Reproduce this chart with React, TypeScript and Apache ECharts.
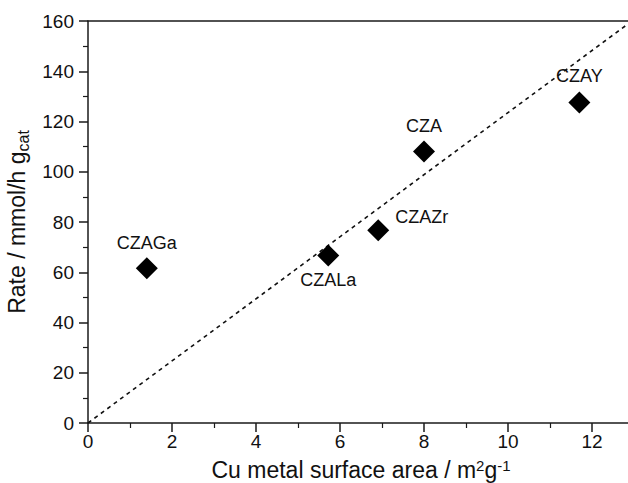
import React, { useEffect, useRef } from "react";
import * as echarts from "echarts";

const sampleNames = ["CZAGa", "CZALa", "CZAZr", "CZA", "CZAY"];
const surfaceArea = [1.4, 5.72, 6.91, 8.0, 11.7];
const rate = [61.6, 66.7, 76.7, 108.1, 127.6];
const fitLineX = [0, 13];
const fitLineY = [0, 160.6];
const xTicks = [0, 2, 4, 6, 8, 10, 12];
const yTicks = [0, 20, 40, 60, 80, 100, 120, 140, 160];

const labelPlacement: Record<string, any> = {
  CZAGa: { position: "top", distance: 5 },
  CZALa: { position: "bottom", distance: 5 },
  CZAZr: { position: "right", distance: 6, offset: [0, -13] },
  CZA: { position: "top", distance: 5 },
  CZAY: { position: "top", distance: 6 },
};

export default function App() {
  const ref = useRef<HTMLDivElement>(null);
  useEffect(() => {
    if (!ref.current) return;
    const chart = echarts.init(ref.current, null, { renderer: "svg" });
    const font = "'Liberation Sans', Arial, sans-serif";
    const axisColor = "#1a1a1a";
    chart.setOption({
      animation: false,
      backgroundColor: "#ffffff",
      textStyle: { fontFamily: font },
      grid: { left: 88, top: 21, bottom: 60, right: -6, outerBoundsMode: "none", containLabel: false },
      xAxis: [
        {
          type: "value",
          min: 0,
          max: 13,
          interval: 2,
          position: "bottom",
          name: "Cu metal surface area / m{sup|2}g{sup|-1}",
          nameLocation: "middle",
          nameGap: 35,
          nameTextStyle: {
            fontSize: 23,
            color: "#111",
            fontFamily: font,
            rich: {
              sup: { fontSize: 15, verticalAlign: "top", padding: [0, 0, 9, 0], color: "#111" },
            },
          },
          axisLine: { show: true, onZero: false, lineStyle: { color: axisColor, width: 1.5 } },
          axisTick: { show: true, inside: false, length: 9, lineStyle: { color: axisColor, width: 1.5 } },
          minorTick: { show: true, splitNumber: 2, length: 5, lineStyle: { color: axisColor, width: 1.2 } },
          axisLabel: {
            fontSize: 19,
            color: "#111",
            margin: 9,
            showMaxLabel: false,
            formatter: (v: number) => (xTicks.includes(v) ? String(v) : ""),
          },
          splitLine: { show: false },
        },
        {
          type: "value",
          min: 0,
          max: 13,
          position: "top",
          axisLine: { show: true, onZero: false, lineStyle: { color: axisColor, width: 1.5 } },
          axisTick: { show: false },
          axisLabel: { show: false },
          splitLine: { show: false },
        },
      ],
      yAxis: {
        type: "value",
        min: 0,
        max: 160,
        interval: 20,
        name: "Rate / mmol/h g{sub|cat}",
        nameLocation: "middle",
        nameGap: 53,
        nameTextStyle: {
          fontSize: 23,
          color: "#111",
          fontFamily: font,
          rich: {
            sub: { fontSize: 16, verticalAlign: "bottom", padding: [12, 0, 0, 0], color: "#111" },
          },
        },
        axisLine: { show: true, onZero: false, lineStyle: { color: axisColor, width: 1.5 } },
        axisTick: { show: true, inside: false, length: 9, lineStyle: { color: axisColor, width: 1.5 } },
        minorTick: { show: true, splitNumber: 2, length: 5, lineStyle: { color: axisColor, width: 1.2 } },
        axisLabel: {
          fontSize: 19,
          color: "#111",
          margin: 14,
          formatter: (v: number) => (yTicks.includes(v) ? String(v) : ""),
        },
        splitLine: { show: false },
      },
      series: [
        {
          type: "line",
          data: fitLineX.map((x, i) => [x, fitLineY[i]]),
          showSymbol: false,
          symbol: "none",
          lineStyle: { color: "#111", width: 1.6, type: [4, 4] },
          silent: true,
          z: 1,
        },
        {
          type: "scatter",
          symbol: "diamond",
          symbolSize: [22, 22],
          itemStyle: { color: "#000", opacity: 1 },
          data: sampleNames.map((n, i) => ({
            value: [surfaceArea[i], rate[i]],
            name: n,
            label: {
              show: true,
              formatter: n,
              fontSize: 18,
              color: "#111",
              fontFamily: font,
              ...labelPlacement[n],
            },
          })),
          z: 3,
        },
      ],
    });
    return () => chart.dispose();
  }, []);
  return <div ref={ref} style={{ width: 628, height: 483, position: "absolute", left: 0, top: 0 }} />;
}
